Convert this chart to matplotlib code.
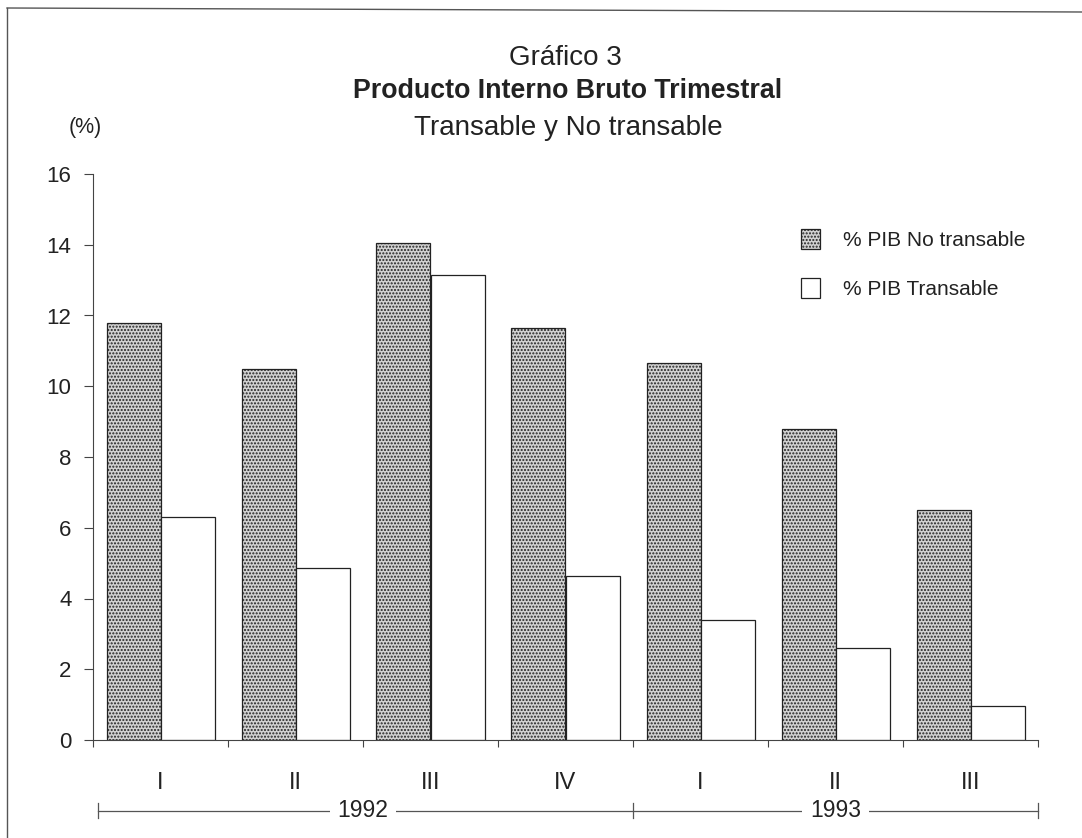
import matplotlib
matplotlib.use('Agg')
import matplotlib.pyplot as plt
from matplotlib.lines import Line2D
import numpy as np

quarters = ['I', 'II', 'III', 'IV', 'I', 'II', 'III']
years = ['1992', '1993']
year_spans = [4, 3]
no_transable = [11.8, 10.5, 14.05, 11.65, 10.65, 8.8, 6.5]
transable = [6.3, 4.85, 13.15, 4.65, 3.4, 2.6, 0.95]

ink = '#222222'
plt.rcParams['font.family'] = ['Liberation Sans', 'DejaVu Sans']
plt.rcParams['hatch.linewidth'] = 1.0
plt.rcParams['hatch.color'] = '#2a2a2a'


def main():
    W, H = 1082, 838
    fig = plt.figure(figsize=(W / 100, H / 100), dpi=100)
    ax = fig.add_axes([93 / W, (H - 740) / H, (1038 - 93) / W, (740 - 174) / H])

    x = np.arange(len(quarters))
    ax.bar(x + 0.3, no_transable, width=0.4, color='#d2d2d2', edgecolor=ink,
           linewidth=0.9, hatch='.....', label='% PIB No transable')
    ax.bar(x + 0.7, transable, width=0.4, color='white', edgecolor=ink,
           linewidth=0.9, label='% PIB Transable')

    ax.set_xlim(0, len(quarters))
    ax.set_ylim(0, 16)
    ax.set_yticks(range(0, 17, 2))
    ax.set_xticks(range(len(quarters) + 1))
    ax.set_xticklabels([])
    ax.tick_params(axis='y', direction='out', length=6.5, width=0.8, color='#444',
                   labelsize=16, pad=9, labelcolor=ink)
    ax.tick_params(axis='x', direction='out', length=5, width=0.8, color='#444')
    for side in ['top', 'right']:
        ax.spines[side].set_visible(False)
    for side in ['left', 'bottom']:
        ax.spines[side].set_linewidth(0.8)
        ax.spines[side].set_color('#444')

    # quarter labels and year brackets below the axis
    trans = ax.get_xaxis_transform()
    for i, q in enumerate(quarters):
        ax.text(i + 0.5, -0.076, q, transform=trans, ha='center', va='center',
                fontsize=17, color=ink)
    y_line = -0.125
    start = 0.04
    bounds = [0]
    for span in year_spans:
        bounds.append(bounds[-1] + span)
    ax.add_line(Line2D([start, bounds[-1]], [y_line, y_line], transform=trans,
                       color='#555', lw=0.9, clip_on=False))
    for b in [start] + bounds[1:]:
        ax.add_line(Line2D([b, b], [y_line - 0.013, y_line + 0.013], transform=trans,
                           color='#555', lw=0.9, clip_on=False))
    for yr, a, b in zip(years, bounds[:-1], bounds[1:]):
        ax.text((a + b) / 2, y_line, yr, transform=trans, ha='center', va='center',
                fontsize=16.5, color=ink,
                bbox=dict(boxstyle='square,pad=0.35', fc='white', ec='none'))

    leg = ax.legend(loc='upper left', bbox_to_anchor=(801 / W, (H - 229) / H),
                    bbox_transform=fig.transFigure, frameon=False, fontsize=15,
                    handlelength=0.9, handleheight=1.1, handletextpad=1.1,
                    labelspacing=1.35, borderpad=0, borderaxespad=0)
    for t in leg.get_texts():
        t.set_color(ink)

    # titles
    fig.text(565 / W, 1 - 58 / H, 'Gráfico 3', ha='center', va='center',
             fontsize=20, color=ink)
    fig.text(568 / W, 1 - 91 / H, 'Producto Interno Bruto Trimestral', ha='center',
             va='center', fontsize=19.3, fontweight='bold', color=ink)
    fig.text(568 / W, 1 - 128 / H, 'Transable y No transable', ha='center',
             va='center', fontsize=20, color=ink)
    fig.text(85 / W, 1 - 127 / H, '(%)', ha='center', va='center',
             fontsize=15.5, color=ink)

    # page frame (left and top edges)
    fig.add_artist(Line2D([7 / W, 7 / W], [0, 1 - 8 / H], color='#555', lw=1.0))
    fig.add_artist(Line2D([7 / W, 1], [1 - 8 / H, 1 - 12 / H], color='#555', lw=1.0))

    fig.savefig('out.png', dpi=100)


if __name__ == '__main__':
    main()
